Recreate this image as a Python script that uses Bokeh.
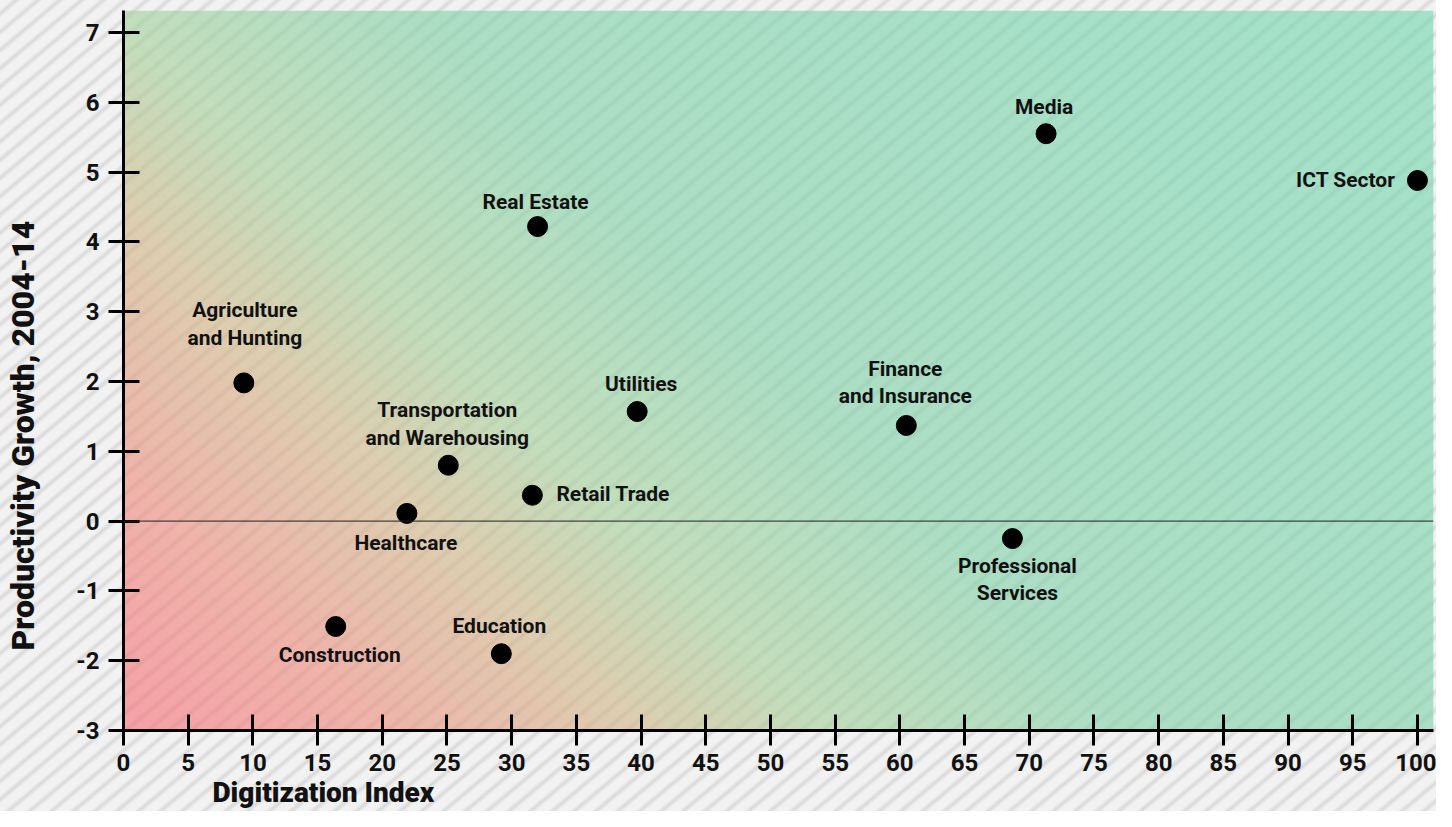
import numpy as np
from bokeh.plotting import figure
from bokeh.models import (ColumnDataSource, Range1d, FixedTicker, Span, Title,
                          LinearAxis, InlineStyleSheet)
from bokeh.core.properties import value
from bokeh.embed import file_html
from bokeh.resources import INLINE

# ---------------- data ----------------
sectors = ["Agriculture\nand Hunting", "Real Estate", "Media", "ICT Sector",
           "Utilities", "Finance\nand Insurance", "Transportation\nand Warehousing",
           "Retail Trade", "Healthcare", "Professional\nServices",
           "Construction", "Education"]
digitization = [9.3, 32.0, 71.3, 100.0, 39.7, 60.5, 25.1, 31.6, 21.9, 68.7, 16.4, 29.2]
productivity = [1.98, 4.22, 5.55, 4.88, 1.57, 1.37, 0.80, 0.37, 0.11, -0.25, -1.51, -1.90]
x_ticks = list(range(0, 101, 5))
y_ticks = list(range(-3, 8))
x_title = "Digitization Index"
y_title = "Productivity Growth, 2004-14"

# label layout (screen px offsets, alignment)
label_dx = [1, -2, -2, -22, 4, -1, -1, 24, -1, 5, 4, -2]
label_dy = [-59, -25, -27, 0, -28, -43, -41, -1, 30, 41, 29, -28]
label_align = ["center", "center", "center", "right", "center", "center", "center",
               "left", "center", "center", "center", "center"]

FONT = "Roboto"
TITLE_FONT = "Roboto Black, Roboto"

# ---------------- figure ----------------
W_FIG, H_FIG = 1436, 811
X0, X1 = 0, 101.24
Y0, Y1 = -3, 7.315

css = InlineStyleSheet(css="""
:host {
  background: repeating-linear-gradient(140deg,
      #f2f2f2 0px, #f2f2f2 7px, #d9d9d9 10.5px, #f2f2f2 14px);
}
""")

p = figure(width=W_FIG, height=H_FIG, output_backend="svg", toolbar_location=None,
           x_range=Range1d(X0, X1), y_range=Range1d(Y0, Y1),
           min_border_left=123, min_border_right=3, min_border_top=10,
           min_border_bottom=81)
p.stylesheets = [css]
p.border_fill_alpha = 0
p.background_fill_alpha = 0
p.outline_line_color = None
p.grid.visible = False

# gradient background of the plot frame (semi-transparent so the stripes show)
FW, FH = 1310, 720
cols, rows = 655, 360
cx = (np.arange(cols) + 0.5) / cols * FW
ry = (np.arange(rows) + 0.5) / rows * FH
t = (cx[None, :] + ry[:, None]) / (FW + FH)
st = [0.0, 0.12, 0.25, 0.35, 0.5, 1.0]
sr = [245, 240, 222, 194, 172, 164]
sg = [160, 178, 205, 222, 222, 225]
sb = [166, 170, 176, 188, 196, 202]
alpha = 0.6
bg = 242
img = np.empty((rows, cols), dtype=np.uint32)
view = img.view(dtype=np.uint8).reshape((rows, cols, 4))
for ch, stops in enumerate([sr, sg, sb]):
    target = np.interp(t, st, stops)
    comp = (target - (1 - alpha) * bg) / alpha
    view[:, :, ch] = np.clip(comp, 0, 255).astype(np.uint8)
view[:, :, 3] = int(alpha * 255)
p.image_rgba(image=[img], x=X0, y=Y0, dw=X1 - X0, dh=Y1 - Y0)

# zero line
p.add_layout(Span(location=0, dimension="width", line_color="#222222", line_width=1))

# points
src = ColumnDataSource(dict(x=digitization, y=productivity))
p.scatter("x", "y", source=src, size=20, fill_color="black", line_color="black")

# labels
for al in ["center", "left", "right"]:
    idx = [i for i, a in enumerate(label_align) if a == al]
    s = ColumnDataSource(dict(
        x=[digitization[i] for i in idx], y=[productivity[i] for i in idx],
        text=[sectors[i] for i in idx], dx=[label_dx[i] for i in idx],
        dy=[label_dy[i] for i in idx]))
    p.text("x", "y", text="text", x_offset="dx", y_offset="dy", source=s,
           text_align=al, text_baseline="middle", text_font=value(FONT),
           text_font_style="bold", text_font_size="21px", text_line_height=1.15,
           text_color="#111111")

# axes
for ax, ticks in [(p.xaxis, x_ticks), (p.yaxis, y_ticks)]:
    ax.ticker = FixedTicker(ticks=ticks)
    ax.major_label_overrides = {v: str(v) for v in ticks}
    ax.axis_line_width = 3
    ax.axis_line_color = "black"
    ax.major_tick_line_width = 3
    ax.major_tick_line_color = "black"
    ax.major_tick_in = 16
    ax.major_tick_out = 15
    ax.minor_tick_line_color = None
    ax.major_label_text_font = FONT
    ax.major_label_text_font_style = "bold"
    ax.major_label_text_font_size = "24px"
    ax.major_label_text_color = "#111111"
p.xaxis.major_label_standoff = 8
p.yaxis.major_label_standoff = 9

# invisible spacer between y tick labels and y title
spacer = LinearAxis(ticker=FixedTicker(ticks=[]), axis_line_color=None,
                    major_tick_out=0, major_tick_in=0, major_tick_line_color=None,
                    minor_tick_out=0, minor_tick_line_color=None,
                    axis_label="spacer", axis_label_text_alpha=0,
                    axis_label_text_font_size="10px", axis_label_standoff=18)
p.add_layout(spacer, "left")

# axis titles
p.add_layout(Title(text=x_title, align="left", offset=89, vertical_align="bottom",
                   standoff=0, text_font=TITLE_FONT, text_font_style="bold",
                   text_font_size="28px", text_color="#111111"), "below")
p.add_layout(Title(text=y_title, align="left", offset=80, vertical_align="bottom",
                   standoff=0, text_font=TITLE_FONT, text_font_style="bold",
                   text_font_size="32px", text_color="#111111"), "left")

open("out.html", "w").write(file_html(p, INLINE))
